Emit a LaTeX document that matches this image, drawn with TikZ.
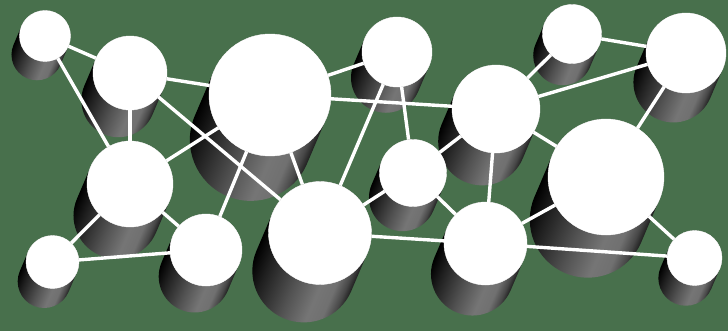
\documentclass[tikz,border=0pt]{standalone}
\definecolor{bggreen}{RGB}{72,112,76}
\pgfdeclarehorizontalshading{cyl}{100bp}{color(0bp)=(black); color(25bp)=(black); color(33bp)=(black!88); color(48bp)=(black!68); color(60bp)=(black!54); color(67bp)=(black!56); color(72bp)=(black!72); color(75bp)=(black!88); color(100bp)=(black!88)}
\newcommand\ballshadow[3]{%
  \begin{scope}[transform canvas={shift={(#1,#2)},rotate=-23.1}]
    \shade[shading=cyl] (#3pt,0pt) arc[start angle=0,end angle=180,radius=#3pt]
      -- ++(0pt,{-0.8*#3pt}) arc[start angle=180,end angle=360,radius=#3pt] -- cycle;
  \end{scope}}
\begin{document}
\begin{tikzpicture}[x=1pt,y=-1pt,
  ball/.style={circle,fill=white,draw=white,line width=0.4pt,inner sep=0pt},
  link/.style={draw=white,line width=3.4pt}]
\fill[bggreen] (0,0) rectangle (728,331);
\useasboundingbox (0,0) rectangle (728,331);
% shadows
\ballshadow{45}{36}{25.5}
\ballshadow{130}{73}{37}
\ballshadow{270}{95}{61}
\ballshadow{397}{52}{35}
\ballshadow{572}{34}{29.5}
\ballshadow{686}{53}{40}
\ballshadow{496}{109}{44}
\ballshadow{130}{184}{43}
\ballshadow{413}{173}{33.5}
\ballshadow{606}{177}{58}
\ballshadow{320}{233}{51.5}
\ballshadow{206}{250}{36}
\ballshadow{52.5}{262}{26.5}
\ballshadow{485.5}{243.5}{41.5}
\ballshadow{694.5}{258}{27.5}
% balls
\node[ball,minimum size=51pt] (n1) at (45,36) {};
\node[ball,minimum size=74pt] (n2) at (130,73) {};
\node[ball,minimum size=122pt] (n3) at (270,95) {};
\node[ball,minimum size=70pt] (n4) at (397,52) {};
\node[ball,minimum size=59pt] (n5) at (572,34) {};
\node[ball,minimum size=80pt] (n6) at (686,53) {};
\node[ball,minimum size=88pt] (n7) at (496,109) {};
\node[ball,minimum size=86pt] (n8) at (130,184) {};
\node[ball,minimum size=67pt] (n9) at (413,173) {};
\node[ball,minimum size=116pt] (n10) at (606,177) {};
\node[ball,minimum size=103pt] (n11) at (320,233) {};
\node[ball,minimum size=72pt] (n12) at (206,250) {};
\node[ball,minimum size=53pt] (n13) at (52.5,262) {};
\node[ball,minimum size=83pt] (n14) at (485.5,243.5) {};
\node[ball,minimum size=55pt] (n15) at (694.5,258) {};
% links
\draw[link] (n1) -- (n2);
\draw[link] (n1) -- (n8);
\draw[link] (n2) -- (n3);
\draw[link] (n2) -- (n8);
\draw[link] (n2) -- (n11);
\draw[link] (n3) -- (n8);
\draw[link] (n3) -- (n12);
\draw[link] (n3) -- (n11);
\draw[link] (n3) -- (n4);
\draw[link] (n3) -- (n7);
\draw[link] (n4) -- (n11);
\draw[link] (n4) -- (n9);
\draw[link] (n8) -- (n12);
\draw[link] (n8) -- (n13);
\draw[link] (n13) -- (n12);
\draw[link] (n11) -- (n9);
\draw[link] (n11) -- (n14);
\draw[link] (n9) -- (n14);
\draw[link] (n9) -- (n7);
\draw[link] (n7) -- (n14);
\draw[link] (n7) -- (n10);
\draw[link] (n7) -- (n5);
\draw[link] (n7) -- (n6);
\draw[link] (n5) -- (n6);
\draw[link] (n6) -- (n10);
\draw[link] (n14) -- (n10);
\draw[link] (n14) -- (n15);
\draw[link] (n10) -- (n15);
\end{tikzpicture}
\end{document}
